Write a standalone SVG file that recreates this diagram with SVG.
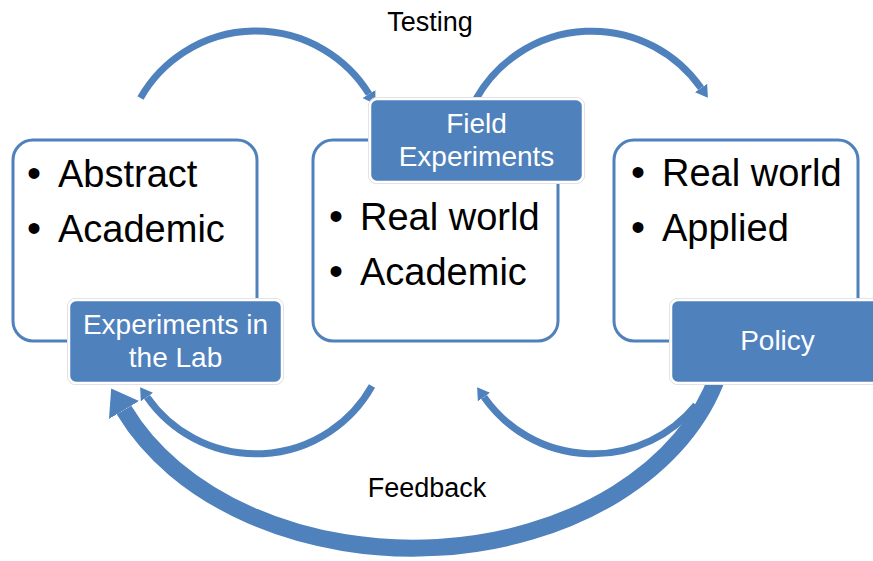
<svg xmlns="http://www.w3.org/2000/svg" width="873" height="561" viewBox="0 0 873 561">
<style>
.box{fill:#fff;stroke:#4F81BD;stroke-width:3}
.lbl{fill:#4F81BD;stroke:#fff;stroke-width:2.5}
.halo{fill:none;stroke:#dadada;stroke-width:1}
.arc{fill:none;stroke:#4F81BD;stroke-width:7}
.big{fill:none;stroke:#4F81BD;stroke-width:17}
.t{font-family:"Liberation Sans",Arial,sans-serif;font-size:38px;fill:#000}
.b{font-size:40px}
.w{font-family:"Liberation Sans",Arial,sans-serif;font-size:28px;fill:#fff;text-anchor:middle}
.c{font-family:"Liberation Sans",Arial,sans-serif;font-size:27px;fill:#000;text-anchor:middle}
</style>
<defs>
<marker id="ah" markerUnits="userSpaceOnUse" markerWidth="13" markerHeight="15" refX="0" refY="7.5" orient="auto"><path d="M0,0 L12,7.5 L0,15 z" fill="#4F81BD"/></marker>
<marker id="bh" markerUnits="userSpaceOnUse" markerWidth="26" markerHeight="35" refX="0" refY="17.5" orient="auto"><path d="M0,0 L25,17.5 L0,35 z" fill="#4F81BD"/></marker>
</defs>
<rect width="873" height="561" fill="#fff"/>
<g id="connectors">
<path class="arc" d="M140.5,98 A133,133 0 0 1 369,94" marker-end="url(#ah)"/>
<path class="arc" d="M476,99 A133,133 0 0 1 701,88" marker-end="url(#ah)"/>
<path class="arc" d="M372,386 A133,133 0 0 1 147,397" marker-end="url(#ah)"/>
<path class="arc" d="M696,405 A133,133 0 0 1 484,397" marker-end="url(#ah)"/>
<path class="big" d="M718,375 A315,230 0 0 1 124,410" marker-end="url(#bh)"/>
</g>
<g id="lab">
<rect class="box" x="13" y="140" width="244" height="201" rx="20"/>
<text class="t" y="187"><tspan class="b" x="27">•</tspan><tspan x="58">Abstract</tspan></text>
<text class="t" y="242"><tspan class="b" x="27">•</tspan><tspan x="58">Academic</tspan></text>
<rect class="halo" x="67.5" y="298.5" width="216" height="86" rx="8"/>
<rect class="lbl" x="69" y="300" width="213" height="83" rx="7"/>
<text class="w" x="175.5" y="334">Experiments in</text>
<text class="w" x="175.5" y="367">the Lab</text>
</g>
<g id="field">
<rect class="box" x="313" y="140" width="245" height="201" rx="20"/>
<text class="t" y="230"><tspan class="b" x="329">•</tspan><tspan x="360">Real world</tspan></text>
<text class="t" y="285"><tspan class="b" x="329">•</tspan><tspan x="360">Academic</tspan></text>
<rect class="halo" x="368.5" y="97.5" width="216" height="86" rx="8"/>
<rect class="lbl" x="370" y="99" width="213" height="83" rx="7"/>
<text class="w" x="476.5" y="133">Field</text>
<text class="w" x="476.5" y="166">Experiments</text>
</g>
<g id="policy">
<rect class="box" x="614" y="140" width="244" height="201" rx="20"/>
<text class="t" y="186"><tspan class="b" x="631">•</tspan><tspan x="662">Real world</tspan></text>
<text class="t" y="241"><tspan class="b" x="631">•</tspan><tspan x="662">Applied</tspan></text>
<rect class="halo" x="669.5" y="298.5" width="216" height="86" rx="8"/>
<rect class="lbl" x="671" y="300" width="213" height="83" rx="7"/>
<text class="w" x="777.5" y="350">Policy</text>
</g>
<g id="captions">
<text class="c" x="430" y="31">Testing</text>
<text class="c" x="427" y="497">Feedback</text>
</g>
</svg>
